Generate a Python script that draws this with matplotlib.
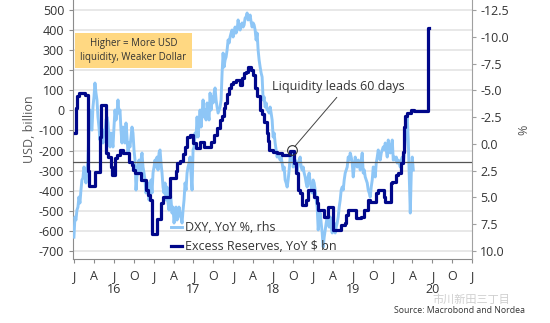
import numpy as np
import matplotlib
matplotlib.use("Agg")
import matplotlib.pyplot as plt
from matplotlib.transforms import blended_transform_factory

plt.rcParams['font.family'] = ['Open Sans', 'Noto Sans CJK SC', 'DejaVu Sans']
plt.rcParams['axes.unicode_minus'] = False

# ---------------- data ----------------
# Excess Reserves, YoY $ bn (weekly step series; time in decimal years)
er_t = [2016.013, 2016.021, 2016.044, 2016.063, 2016.144, 2016.176, 2016.195, 2016.270, 2016.333, 2016.345,
        2016.408, 2016.433, 2016.465, 2016.477, 2016.521, 2016.540, 2016.578, 2016.622, 2016.685, 2016.729,
        2016.741, 2016.766, 2016.842, 2016.905, 2016.930, 2016.955, 2016.986, 2017.049, 2017.087, 2017.124,
        2017.212, 2017.281, 2017.294, 2017.332, 2017.369, 2017.394, 2017.420, 2017.457, 2017.495, 2017.533,
        2017.583, 2017.633, 2017.721, 2017.759, 2017.796, 2017.834, 2017.859, 2017.884, 2017.897, 2017.922,
        2017.941, 2017.972, 2017.997, 2018.035, 2018.085, 2018.111, 2018.136, 2018.161, 2018.186, 2018.224,
        2018.249, 2018.274, 2018.299, 2018.337, 2018.362, 2018.387, 2018.418, 2018.437, 2018.450, 2018.500,
        2018.550, 2018.613, 2018.714, 2018.764, 2018.789, 2018.814, 2018.839, 2018.864, 2018.915, 2018.940,
        2019.015, 2019.053, 2019.065, 2019.141, 2019.191, 2019.247, 2019.354, 2019.405, 2019.417, 2019.442,
        2019.543, 2019.606, 2019.643, 2019.693, 2019.719, 2019.794, 2019.819, 2019.894, 2019.907, 2019.976,
        2019.995, 2020.045, 2020.070, 2020.108, 2020.127, 2020.139, 2020.158, 2020.183, 2020.234, 2020.271,
        2020.450, 2020.454]
er_v = [-114, 10, 70, 88, 77, -300, -378, -305, -130, 25,
        -212, -230, -280, -322, -237, -222, -197, -212, -257, -270,
        -297, -312, -347, -396, -420, -446, -615, -540, -461, -430,
        -337, -300, -262, -250, -215, -180, -130, -122, -160, -189,
        -156, -181, -156, -120, -89, -48, -30, 10, 35, 80,
        110, 130, 143, 151, 127, 160, 185, 190, 218, 201,
        175, 110, 70, 2, -20, -56, -114, -150, -197, -206,
        -210, -222, -200, -262, -312, -396, -412, -471, -446, -396,
        -430, -461, -496, -530, -480, -596, -570, -560, -521, -496,
        -537, -530, -496, -446, -455, -412, -395, -430, -455, -363,
        -355, -322, -313, -262, -205, -82, -28, -15, 2, -5,
        409, 409]

# DXY, YoY %, (rhs, inverted) sampled every ~4.6 days from start of 2016
dxy_start = 2016.0
dxy_step_days = 4.59
dxy_yoy = [8.71, 6.83, 7.11, 6.18, 5.90, 4.96, 5.52, 4.31, 3.37, 3.19,
           2.16, 2.72, 3.65, 2.44, 1.51, -1.29, -3.16, -1.57, -1.29, -3.44,
           -4.38, -5.68, -4.75, -4.10, -2.51, -1.57, -0.36, -1.57, -0.64, -0.08,
           -1.29, -1.01, -2.23, -2.51, -1.95, -0.64, 0.29, -1.01, -0.36, 0.29,
           -1.57, -3.16, -2.23, -2.88, -4.10, -2.88, -3.16, -1.29, -0.08, -1.57,
           -0.64, -0.08, -1.95, -0.64, 0.85, -0.08, 0.29, -0.64, -1.57, -1.01,
           0.57, 1.51, 4.31, 3.09, 2.16, 1.51, 2.72, 1.51, 0.85, 2.16,
           2.72, 3.37, 4.59, 4.03, 3.65, 5.24, 4.59, 3.37, 4.59, 2.72,
           2.16, 1.51, 2.16, 1.23, 2.44, 0.85, 0.57, 1.79, 2.72, 4.03,
           4.59, 3.65, 5.24, 4.03, 5.52, 6.18, 4.31, 5.24, 6.46, 5.90,
           7.39, 6.46, 5.90, 7.11, 6.83, 5.90, 6.46, 6.83, 7.39, 6.18,
           5.24, 3.65, 4.31, 2.72, 2.16, 1.79, 1.23, 2.91, 4.31, 0.57,
           0.29, -1.01, -0.64, -2.51, -0.64, -1.95, -3.16, -1.57, -2.88, -4.10,
           -2.51, -3.16, -2.23, -3.82, -2.88, -2.23, -4.75, -3.16, -4.38, -3.82,
           -4.75, -5.22, -4.10, -3.44, -2.88, -3.16, -3.44, -4.10, -6.62, -8.48,
           -7.18, -7.83, -8.11, -8.76, -9.70, -9.42, -9.98, -10.35, -10.63, -9.98,
           -10.35, -10.91, -10.35, -10.63, -11.57, -10.91, -10.63, -11.10, -11.29, -10.91,
           -11.10, -11.75, -11.85, -12.22, -11.57, -11.75, -12.03, -11.38, -10.91, -11.29,
           -11.10, -10.63, -9.70, -10.35, -8.76, -7.83, -7.18, -6.62, -6.24, -4.10,
           -4.38, -3.44, -3.82, -3.16, -3.16, -2.88, -3.44, -2.88, -2.23, -0.64,
           -1.01, -0.08, 0.57, 1.23, 0.85, 1.23, 1.51, 1.23, 1.79, 2.44,
           2.16, 3.37, 3.65, 4.03, 3.37, 2.44, 1.23, 1.51, 0.85, 2.16,
           1.79, 1.51, 2.16, 2.72, 1.79, 1.51, 1.23, 2.16, 2.44, 2.16,
           2.72, 3.09, 3.65, 4.03, 3.09, 2.72, 3.65, 4.03, 4.59, 3.37,
           3.65, 4.31, 5.24, 5.90, 8.04, 7.11, 6.46, 7.39, 8.32, 9.64,
           8.71, 8.04, 7.39, 6.83, 7.39, 7.77, 6.83, 7.77, 8.32, 7.77,
           7.39, 8.32, 7.77, 7.39, 6.83, 5.90, 5.24, 4.31, 4.03, 4.31,
           3.37, 2.72, 2.44, 2.16, 1.23, 1.51, 0.85, 1.23, 1.79, 3.09,
           2.16, 1.23, 1.79, 2.16, 1.51, 1.79, 2.44, 1.51, 0.85, 2.72,
           2.44, 3.09, 3.37, 3.65, 4.31, 4.59, 4.96, 4.03, 3.37, 2.16,
           2.44, 3.09, 1.79, 1.23, 0.57, 1.23, 1.51, 0.85, 0.57, 0.29,
           0.57, -0.08, 0.57, 1.23, -0.36, 0.29, 0.85, 0.29, -0.36, 1.51,
           1.23, 1.51, 1.23, 1.79, 1.51, 1.79, 2.16, 1.51, 1.23, 1.79,
           1.04, -0.36, -1.95, -2.51, -0.36, 2.91, 6.46, 2.72, 1.23, 2.44]

reference_level = -255          # horizontal reference line (USD bn)
marker_point = (2018.735, -197)  # circled point on the reserves line

x_tick_labels = ['J', 'A', 'J', 'O']
year_labels = ['16', '17', '18', '19', '20']
left_ticks = list(range(-700, 501, 100))
right_ticks = [-12.5, -10.0, -7.5, -5.0, -2.5, 0.0, 2.5, 5.0, 7.5, 10.0]

# ---------------- styling ----------------
DARK = '#00078A'
LIGHT = '#8EC6F6'
GRID = '#E6E6E6'
SPINE = '#8C8C8C'
TXT = '#333333'

dxy_t = dxy_start + np.arange(len(dxy_yoy)) * dxy_step_days / 365.25

fig = plt.figure(figsize=(5.5, 3.23), dpi=100)
ax1 = fig.add_axes([0.1327, 0.1972, 0.859 - 0.1327, 1.0 - 0.1972])
ax2 = ax1.twinx()
ax3 = ax1.twinx()

ylo, yhi = -741.5, 549.8
ax1.set_ylim(ylo, yhi)
ax3.set_ylim(ylo, yhi)
# right axis aligned: 500 <-> -12.5, -700 <-> 10.0 (inverted)
conv = lambda L: -12.5 + (500 - L) * 22.5 / 1200
ax2.set_ylim(conv(ylo), conv(yhi))
ax1.set_xlim(2015.988, 2021.003)

# grid
ax1.set_yticks(left_ticks)
ax1.yaxis.grid(True, color=GRID, lw=1.3)
ax1.set_axisbelow(True)

# series
l_dxy, = ax2.plot(dxy_t, dxy_yoy, color=LIGHT, lw=2.1, solid_joinstyle='round',
                  label='DXY, YoY %, rhs')
ax3.axhline(reference_level, color='#555555', lw=0.9, zorder=1)
l_er, = ax3.plot(er_t, er_v, color=DARK, lw=2.3, drawstyle='steps-post', zorder=3,
                 label='Excess Reserves, YoY $ bn')

# annotation
ax3.plot([marker_point[0]], [marker_point[1]], marker='o', ms=7, mfc='none',
         mec='#333333', mew=0.8, zorder=4)
ax3.annotate('', xy=marker_point, xytext=(2019.300, 65),
             arrowprops=dict(arrowstyle='-', color='#444444', lw=0.7,
                             shrinkA=0, shrinkB=3.2))
ax3.text(2018.487, 117, 'Liquidity leads 60 days', fontsize=9, color=TXT,
         ha='left', va='center')

# yellow box
fig.text(0.2425, 0.843, 'Higher = More USD\nliquidity, Weaker Dollar', fontsize=7.0,
         color=TXT, ha='center', va='center', linespacing=1.35,
         bbox=dict(boxstyle='square,pad=0.55', fc='#FFD882', ec='none'))

# axes styling
for a in (ax1, ax2, ax3):
    a.spines['top'].set_visible(False)
for a in (ax2, ax3):
    a.spines['left'].set_visible(False)
    a.spines['bottom'].set_visible(False)
ax3.spines['right'].set_visible(False)
ax1.spines['right'].set_visible(False)
ax1.spines['left'].set_color(SPINE)
ax1.spines['bottom'].set_color(SPINE)
ax2.spines['right'].set_color('#A0A0A0')
ax3.yaxis.set_visible(False)

ax1.tick_params(axis='y', length=3, color=SPINE, pad=3.4, labelsize=9, labelcolor=TXT)
ax1.set_yticklabels([str(v) for v in left_ticks])
ax2.set_yticks(right_ticks)
ax2.set_yticklabels([f'{v:.1f}' for v in right_ticks])
ax2.tick_params(axis='y', length=3, color='#A0A0A0', pad=2.5, labelsize=9, labelcolor=TXT)

xt = [2016 + i * 0.25 for i in range(21)]
ax1.set_xticks(xt)
ax1.set_xticklabels([x_tick_labels[i % 4] for i in range(21)])
ax1.tick_params(axis='x', length=3, color=SPINE, pad=4.5, labelsize=9, labelcolor=TXT)
trans = blended_transform_factory(ax1.transData, ax1.transAxes)
for i, lab in enumerate(year_labels):
    ax1.text(2016.5 + i, -0.116, lab, transform=trans, ha='center', va='center',
             fontsize=9, color=TXT)

ax1.set_ylabel('USD, billion', fontsize=9, color='#595959', labelpad=2)
ax2.set_ylabel('%', fontsize=9, color='#595959', labelpad=6)

leg = ax3.legend(handles=[l_dxy, l_er], loc='upper left',
                 bbox_to_anchor=(171 / 550, 1 - 221 / 323), bbox_transform=fig.transFigure,
                 frameon=False, fontsize=9, handlelength=0.9, handletextpad=0.2,
                 borderpad=0, borderaxespad=0, labelspacing=0.5)
for t in leg.get_texts():
    t.set_color(TXT)

# watermark + source
fig.text(432 / 550, 1 - 299.5 / 323, '市川新田三丁目', fontsize=8, color='#CFCFCF',
         ha='left', va='center', family=['Noto Sans CJK SC', 'DejaVu Sans'])
fig.text(525 / 550, 1 - 310.5 / 323, 'Source: Macrobond and Nordea', fontsize=6.3,
         color=TXT, ha='right', va='center')

fig.savefig('out.png', dpi=100)
